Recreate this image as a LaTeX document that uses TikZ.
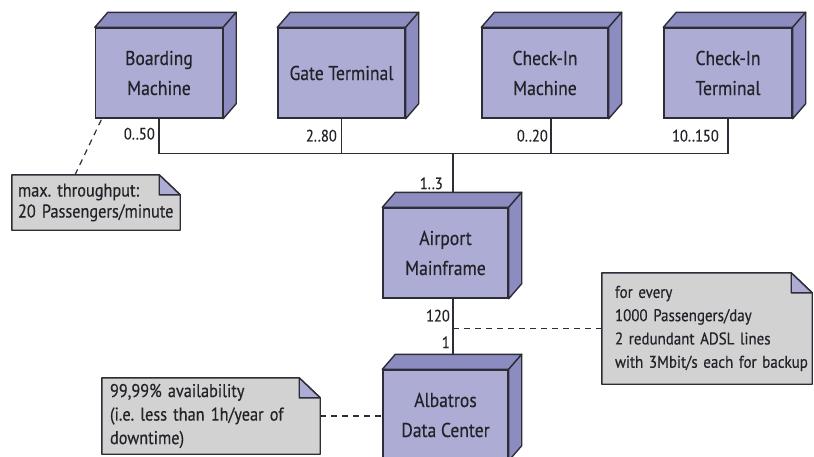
\documentclass[tikz,border=0pt]{standalone}
\usepackage{fontspec}
\setmainfont[FakeStretch=0.88, FakeBold=0.4]{PT Sans}
\usetikzlibrary{backgrounds}
\frenchspacing

\definecolor{devfront}{RGB}{172,172,212}
\definecolor{devside}{RGB}{140,140,192}
\definecolor{notefill}{RGB}{210,210,210}
\definecolor{edgecol}{RGB}{45,45,55}
\definecolor{inkcol}{RGB}{34,34,40}

\tikzset{
  device/.style={draw=edgecol, line width=1.4pt, fill=devfront, text=inkcol,
    minimum width=127pt, minimum height=90pt, inner sep=0pt, align=center,
    font=\fontsize{20}{30}\selectfont},
  face/.style={draw=edgecol, line width=1.4pt, fill=devside, line join=round},
  note/.style={inner ysep=0pt, inner xsep=7pt, align=left, text=inkcol,
    font=\fontsize{18.5}{21}\selectfont},
  notebox/.style={draw=edgecol, line width=1.4pt, fill=notefill, line join=round},
  link/.style={draw=edgecol, line width=1.2pt},
  anchorline/.style={link, dash pattern=on 6pt off 5pt},
  mult/.style={anchor=east, inner sep=0pt, text=inkcol, font=\fontsize{16.5}{16.5}\selectfont}
}

% top and side of a device box
\newcommand{\devfaces}[1]{
  \draw[face] (#1.north west) -- ++(13,-15) -- ([shift={(13,-15)}]#1.north east)
    -- (#1.north east) -- cycle;
  \draw[face] (#1.north east) -- ([shift={(13,-15)}]#1.north east)
    -- ([shift={(13,-15)}]#1.south east) -- (#1.south east) -- cycle;
}
% note with folded corner
\newcommand{\notepaper}[1]{
  \draw[notebox] (#1.south west) -- (#1.north west) -- ([xshift=-21pt]#1.north east)
    -- ([yshift=-20pt]#1.north east) -- (#1.south east) -- cycle;
  \draw[notebox, fill=devfront] ([xshift=-21pt]#1.north east)
    -- ([xshift=-21pt,yshift=-20pt]#1.north east) -- ([yshift=-20pt]#1.north east) -- cycle;
}

\begin{document}
\begin{tikzpicture}[x=1pt, y=-1pt]
  \useasboundingbox (0,0) rectangle (814,456);
  \clip (0,0) rectangle (814,456);

  % Devices
  \node[device] (bm) at (159,73) {Boarding\\Machine};
  \node[device] (gt) at (341.5,73) {Gate Terminal};
  \node[device, minimum width=126pt] (cim) at (545,73) {Check-In\\Machine};
  \node[device, minimum width=128pt] (cit) at (728,73) {Check-In\\Terminal};
  \node[device, minimum width=125pt] (am) at (445.5,253) {Airport\\Mainframe};
  \node[device, minimum width=125pt] (adc) at (445.5,415) {Albatros\\Data Center};

  % Notes
  \node[note, inner xsep=6pt, text width=156pt, minimum height=55pt] (thru) at (96,202.5)
    {max. throughput:\\\mbox{20 Passengers/minute}};
  \node[note, inner xsep=13pt, text width=184pt, minimum height=111pt,
    font=\fontsize{17}{23.3}\selectfont] (adsl) at (707,328.5)
    {for every\\1000 Passengers/day\\2 redundant ADSL lines\\\mbox{with 3Mbit/s each for backup}};
  \node[note, inner xsep=8pt, text width=202pt, minimum height=76pt,
    font=\fontsize{18.5}{23.5}\selectfont] (avail) at (211,416)
    {99,99\% availability\\\mbox{(i.e. less than 1h/year of}\\downtime)};

  \begin{pgfonlayer}{background}
    \notepaper{thru}
    \notepaper{adsl}
    \notepaper{avail}
  \end{pgfonlayer}

  % Connections
  \coordinate (bus) at (453,153);
  \draw[link] (bm.south) -- ++(0,35) -| (cit.south);
  \draw[link] (gt.south) -- (gt.south |- bus);
  \draw[link] ([xshift=6pt]cim.south) -- ([xshift=6pt]cim.south |- bus);
  \draw[link] (bus) -- ([xshift=7.5pt]am.north);
  \draw[link] ([xshift=7.5pt]am.south) -- ([xshift=7.5pt]adc.north);
  \path ([xshift=7.5pt]am.south) ++(0,30) coordinate (tap);

  % Note anchors
  \draw[anchorline] ([xshift=-21pt]thru.north) -- ([xshift=7pt]bm.south west);
  \draw[anchorline] (tap) -- (tap -| adsl.west);
  \draw[anchorline] (avail.east) -- (avail.east -| adc.west);

  \foreach \n in {bm,gt,cim,cit,am,adc} {
    \devfaces{\n}
  }

  % Multiplicities
  \node[mult] (m1) at ([xshift=-4pt,yshift=-15pt]bm.south) {0..50};
  \node[mult] (m2) at ([xshift=-4.5pt,yshift=-17pt]gt.south) {2..80};
  \node[mult] (m3) at ([xshift=3pt,yshift=-17pt]cim.south) {0..20};
  \node[mult] (m4) at ([xshift=-9pt,yshift=-17pt]cit.south) {10..150};
  \node[mult] (m5) at ([xshift=-2.5pt,yshift=24pt]am.north) {1..3};
  \node[mult] (m6) at ([xshift=4.5pt,yshift=-17pt]am.south) {120};
  \node[mult] (m7) at ([xshift=4.5pt,yshift=27pt]adc.north) {1};
\end{tikzpicture}
\end{document}
